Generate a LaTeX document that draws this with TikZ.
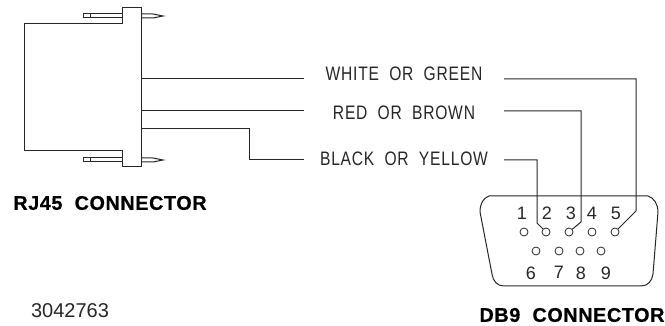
\documentclass[tikz,border=0pt]{standalone}
\usepackage{fontspec}
\setmainfont{Liberation Sans}
\newfontfamily\boldlabelfont[WordSpace=2,LetterSpace=3,FakeBold=0.6]{Liberation Sans Bold}
\newfontfamily\wirelabelfont[WordSpace=2,LetterSpace=4,FakeStretch=0.8]{Liberation Sans}
\usetikzlibrary{positioning}
\definecolor{linegray}{gray}{0.15}
\tikzset{
    wire/.style={draw=linegray, line width=1pt},
    outline/.style={draw=linegray, line width=1pt},
    pinhole/.style={circle, draw=linegray, line width=0.8pt, minimum size=8pt, inner sep=0pt},
    pinnum/.style={inner sep=0pt, text=linegray, font=\fontsize{18}{18}\selectfont},
    wirelabel/.style={inner sep=0pt, text=linegray, font=\wirelabelfont\fontsize{19.5}{20}\selectfont},
    title/.style={inner sep=0pt, text=black, font=\boldlabelfont\fontsize{19.8}{20}\selectfont}
}

\begin{document}
\begin{tikzpicture}[x=1pt, y=-1pt]
    \useasboundingbox (0,0) rectangle (665,326);

    % RJ45 body and pins
    \draw[outline] (24,24) -- (122,24) -- (122,8) -- (141,8) -- (141,167) -- (122,167) -- (122,151) -- (24,151) -- cycle;
    \draw[outline] (122,14) -- (83,14) -- (83,18) -- (122,18);
    \draw[outline] (90,14) -- (90,18);
    \draw[outline] (141,14) -- (153,14) -- (163,16) -- (153,18) -- (141,18);
    \draw[outline] (122,158) -- (83,158) -- (83,162) -- (122,162);
    \draw[outline] (90,158) -- (90,162);
    \draw[outline] (141,158) -- (153,158) -- (163,160) -- (153,162) -- (141,162);

    % DB9 shell
    \draw[outline] (489,196) -- (648,196) .. controls (654,198) and (658,204) .. (658,212)
        -- (653,274) .. controls (652,281) and (648,286) .. (641,286) -- (504,286)
        .. controls (497,286) and (493,281) .. (492,274) -- (480,212)
        .. controls (480,204) and (483,198) .. (489,196) -- cycle;

    \node[pinhole] (pin1) at (524,232) {};
    \node[pinhole] (pin2) at (546,232) {};
    \node[pinhole] (pin3) at (569,232) {};
    \node[pinhole] (pin4) at (592,232) {};
    \node[pinhole] (pin5) at (615,232) {};
    \node[pinhole] (pin6) at (536,251) {};
    \node[pinhole] (pin7) at (559,251) {};
    \node[pinhole] (pin8) at (580,251) {};
    \node[pinhole] (pin9) at (601,251) {};

    \node[pinnum, above=8pt of pin1, xshift=-2pt] (num1) {1};
    \node[pinnum, above=8pt of pin2, xshift=1pt] (num2) {2};
    \node[pinnum, above=8pt of pin3, xshift=2pt] (num3) {3};
    \node[pinnum, above=8pt of pin4] (num4) {4};
    \node[pinnum, above=8pt of pin5, xshift=1pt] (num5) {5};
    \node[pinnum, below=11pt of pin6, xshift=-5pt] (num6) {6};
    \node[pinnum, below=11pt of pin7] (num7) {7};
    \node[pinnum, below=11pt of pin8, xshift=1pt] (num8) {8};
    \node[pinnum, below=11pt of pin9, xshift=5pt] (num9) {9};

    % wire labels
    \node[wirelabel] (white) at (404,74) {WHITE OR GREEN};
    \node[wirelabel] (red) at (404,113) {RED OR BROWN};
    \node[wirelabel] (black) at (404,159) {BLACK OR YELLOW};

    \coordinate (whiteA) at (141,79);
    \coordinate (whiteB) at (304,79);
    \coordinate (whiteC) at (504,79);
    \coordinate (redA) at (141,111);
    \coordinate (redB) at (304,111);
    \coordinate (redC) at (504,111);
    \coordinate (blackA) at (141,129);
    \coordinate (blackB) at (304,160);
    \coordinate (blackC) at (504,160);

    % wires
    \draw[wire] (whiteA) -- (whiteB);
    \draw[wire] (redA) -- (redB);
    \draw[wire] (blackA) -- (249,129) -- (249,160) -- (blackB);
    \draw[wire] (whiteC) -- (636,79) -- (636,211) -- (pin5);
    \draw[wire] (redC) -- (581,111) -- (581,222) -- (pin3);
    \draw[wire] (blackC) -- (537,160) -- (537,223) -- (pin2);

    % titles
    \node[title] (rjtitle) at (110,203) {RJ45 CONNECTOR};
    \node[title] (dbtitle) at (572,315) {DB9 CONNECTOR};
    \node[inner sep=0pt, text=linegray, font=\fontsize{20}{20}\selectfont] (partno) at (70,311) {3042763};
\end{tikzpicture}
\end{document}
